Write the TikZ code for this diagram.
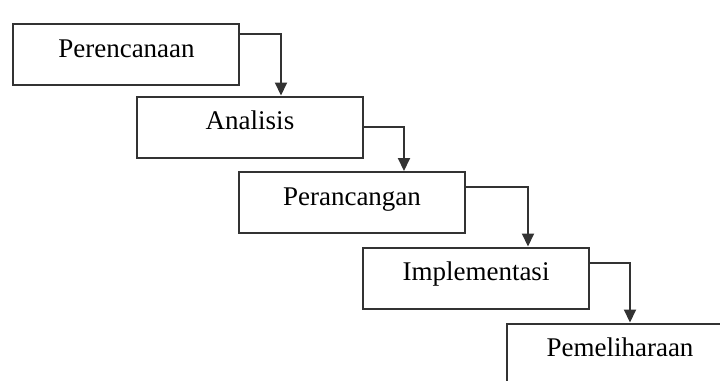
\documentclass[tikz,border=0pt]{standalone}
\usepackage{fontspec}
\setmainfont{Liberation Serif}
\usetikzlibrary{positioning,arrows.meta}

\begin{document}
\begin{tikzpicture}[
  every node/.style={inner sep=0pt},
  stage/.style={draw=black!80,line width=1pt,minimum width=113pt,minimum height=30.5pt,
    text height=8pt,text depth=5.5pt,font=\fontsize{13.5}{16}\selectfont},
  flow/.style={draw=black!80,line width=1pt,-{Triangle[width=6pt,length=6.5pt]}}]
  \useasboundingbox (0,0) rectangle (360pt,-190.5pt);
  \clip (0,0) rectangle (360pt,-190.5pt);
  \node[stage] at (63.25pt,-27.25pt) (plan) {Perencanaan};
  \node[stage] at (125pt,-63.5pt)   (anal) {Analisis};
  \node[stage] at (176pt,-101.25pt) (desg) {Perancangan};
  \node[stage] at (238pt,-139pt)    (impl) {Implementasi};
  \node[stage] at (310pt,-177pt)    (maint) {Pemeliharaan};
  \draw[flow] ([yshift=-5.5pt]plan.north east) -| ([xshift=15.5pt]anal.north);
  \draw[flow] (anal.east) -| ([xshift=26pt]desg.north);
  \draw[flow] ([yshift=-8pt]desg.north east) -| ([xshift=26pt]impl.north);
  \draw[flow] ([yshift=-8pt]impl.north east) -| ([xshift=5pt]maint.north);
\end{tikzpicture}
\end{document}
